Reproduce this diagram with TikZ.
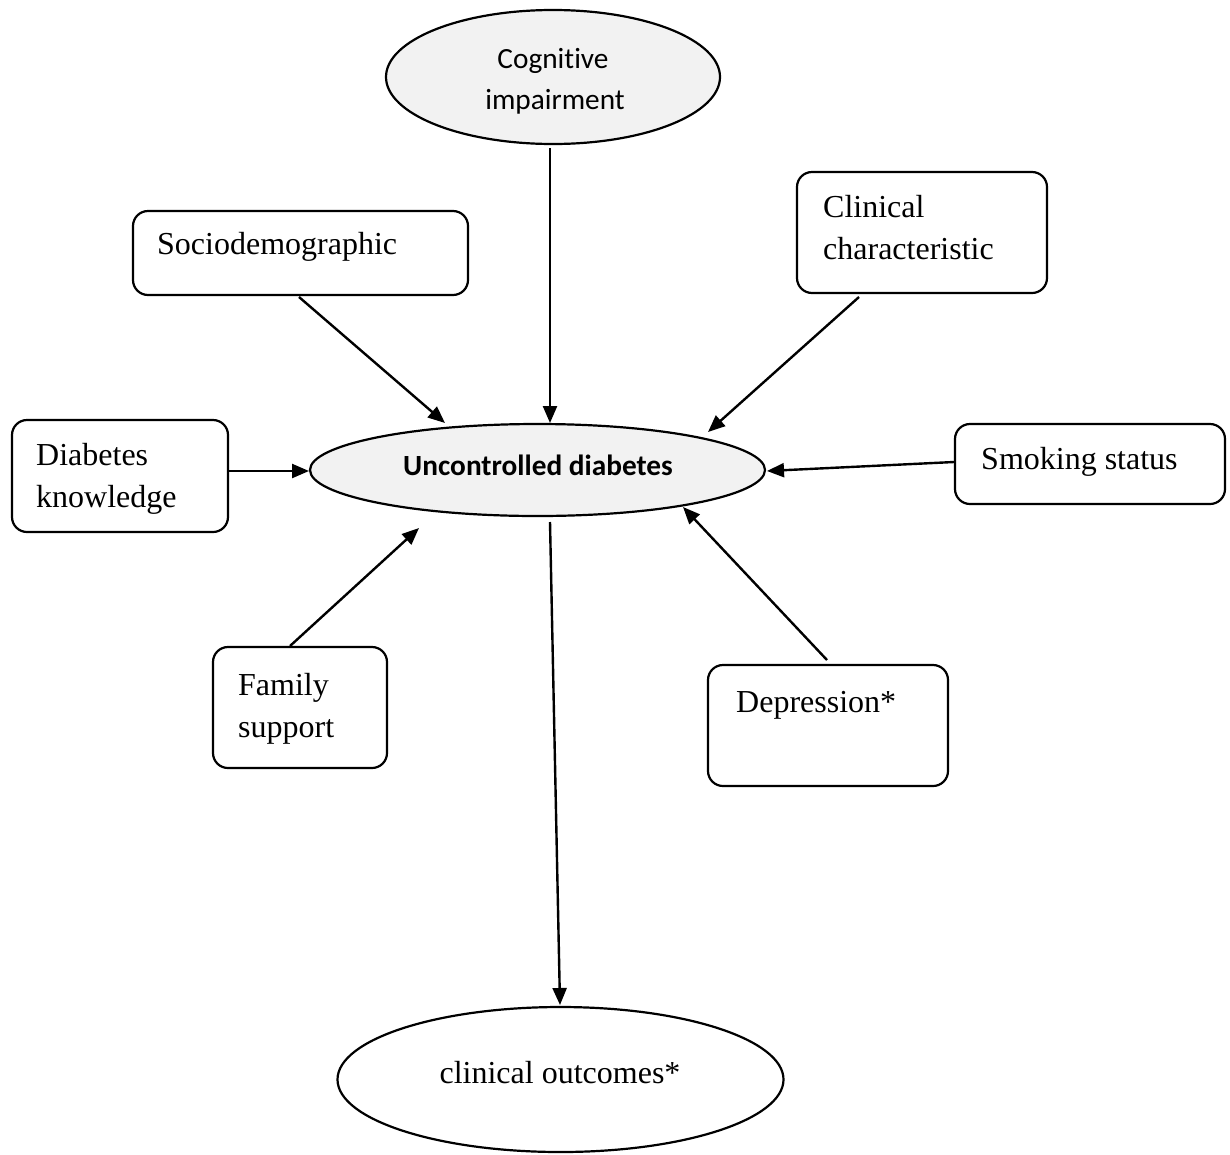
\documentclass[tikz,border=0pt]{standalone}
\usepackage{fontspec}
\setmainfont{Liberation Serif}
\newfontfamily\calfont[RawFeature=-liga]{Carlito}
\usetikzlibrary{shapes.geometric,arrows.meta}
\definecolor{ellgray}{HTML}{F2F2F2}
\begin{document}
\begin{tikzpicture}[x=1pt,y=-1pt,
 box/.style={draw=black,line width=2.2pt,rounded corners=15pt,rectangle,inner sep=0pt,fill=white},
 ell/.style={draw=black,line width=2.2pt,ellipse,inner sep=0pt},
 serif/.style={inner sep=0pt,anchor=base west,font=\fontsize{32}{42}\selectfont},
 sans/.style={inner sep=0pt,anchor=base,font=\calfont\fontsize{29.3}{40}\selectfont},
 sansbold/.style={inner sep=0pt,anchor=base,font=\calfont\bfseries\fontsize{29.3}{40}\selectfont},
 arr/.style={line width=2.4pt,-{Triangle[length=17pt,width=14pt]}}
]
\useasboundingbox (0,0) rectangle (1230,1154);
\fill[white] (0,0) rectangle (1230,1154);

% ellipses
\node[ell,fill=ellgray,minimum width=334pt,minimum height=134pt] (cog) at (553,77) {};
\node[sans] (cogA) at (553,68) {Cognitive};
\node[sans] (cogB) at (555,109) {impairment};

\node[ell,fill=ellgray,minimum width=455pt,minimum height=92pt] (unc) at (537.5,470) {};
\node[sansbold] (uncT) at (538,475) {Uncontrolled diabetes};

\node[ell,fill=white,minimum width=446pt,minimum height=145pt] (out) at (560.5,1079.5) {};
\node[serif,anchor=base] (outT) at (560,1083) {clinical outcomes*};

% boxes
\node[box,minimum width=335pt,minimum height=84pt] (socio) at (300.5,253) {};
\node[serif] (socioT) at (157,254) {Sociodemographic};

\node[box,minimum width=250pt,minimum height=121pt] (clin) at (922,232.5) {};
\node[serif] (clinA) at (823,217) {Clinical};
\node[serif] (clinB) at (823,259) {characteristic};

\node[box,minimum width=216pt,minimum height=112pt] (diab) at (120,476) {};
\node[serif] (diabA) at (36,465) {Diabetes};
\node[serif] (diabB) at (36,507) {knowledge};

\node[box,minimum width=270pt,minimum height=80pt] (smok) at (1090,464) {};
\node[serif] (smokT) at (981,469) {Smoking status};

\node[box,minimum width=174pt,minimum height=121pt] (fam) at (300,707.5) {};
\node[serif] (famA) at (238,695) {Family};
\node[serif] (famB) at (238,737) {support};

\node[box,minimum width=240pt,minimum height=121pt] (dep) at (828,725.5) {};
\node[serif] (depT) at (736,712) {Depression*};

% connector ends
\coordinate (cogS) at (550,148);  \coordinate (cogE) at (550,423);
\coordinate (socS) at (299,297);  \coordinate (socE) at (445,423);
\coordinate (clinS) at (859,297); \coordinate (clinE) at (708,432);
\coordinate (diabS) at (228,471); \coordinate (diabE) at (309,471);
\coordinate (smokS) at (954,462); \coordinate (smokE) at (767,471);
\coordinate (famS) at (290,646);  \coordinate (famE) at (419,528);
\coordinate (depS) at (827,660);  \coordinate (depE) at (683,507);
\coordinate (uncS) at (550,522);  \coordinate (outE) at (560,1005);

\draw[arr] (cogS) -- (cogE);
\draw[arr] (socS) -- (socE);
\draw[arr] (clinS) -- (clinE);
\draw[arr] (diabS) -- (diabE);
\draw[arr] (smokS) -- (smokE);
\draw[arr] (famS) -- (famE);
\draw[arr] (depS) -- (depE);
\draw[arr] (uncS) -- (outE);
\end{tikzpicture}
\end{document}
